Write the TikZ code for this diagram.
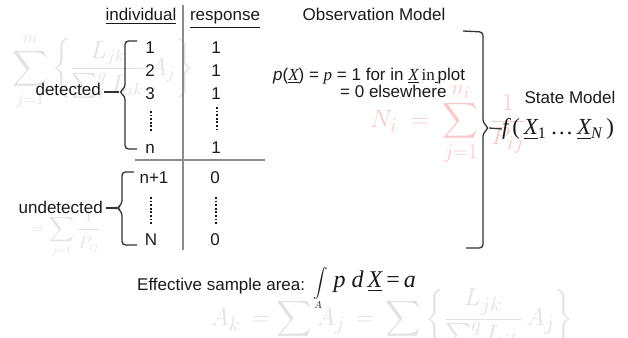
\documentclass[tikz,border=0pt]{standalone}
\usepackage{fontspec}
\setmainfont{Liberation Sans}
\newfontfamily\tms{Liberation Serif}
\usepackage{amsmath}
\definecolor{txt}{HTML}{1A1A1A}
\definecolor{brc}{HTML}{333333}
\definecolor{rulec}{HTML}{8C8C8C}
\definecolor{wmgray}{HTML}{E2E2E2}
\definecolor{wmpink}{HTML}{F8CACA}
\tikzset{
  lbl/.style={font=\fontsize{17}{20}\selectfont, text=txt, inner sep=0pt},
  brk/.style={draw=brc, line width=1.3pt, rounded corners=3.5pt},
  colrule/.style={draw=rulec, line width=1.2pt},
  dotcol/.style={draw=txt, line width=2pt, dash pattern=on 1.8pt off 1.8pt},
  wm/.style={text=wmgray, inner sep=0pt},
  wmr/.style={text=wmpink, inner sep=0pt},
  mth/.style={text=txt, inner sep=0pt, font=\tms\fontsize{23}{26}\selectfont}
}
\begin{document}
\begin{tikzpicture}[x=1pt,y=-1pt]
\path[use as bounding box, fill=white] (0,0) rectangle (628,337);
% faint background formulas
\node[wm, font=\fontsize{25}{28}\selectfont] (wmA) at (103,72) {$\displaystyle\sum_{j=1}^{m}\left\{\frac{L_{jk}}{\sum_{i}^{q}L_{ik}}\,A_j\right\}$};
\node[wm, font=\fontsize{16}{20}\selectfont] (wmB) at (66,234) {$\displaystyle =\sum_{j=1}\frac{1}{\hat{P}_{ij}}$};
\node[wmr, font=\fontsize{32}{36}\selectfont] (wmC) at (448,124) {$N_i\;=\;\displaystyle\sum_{j=1}^{n_i}\;\frac{\;\,1\;\,}{P_{ij}}$};
\node[wm, font=\fontsize{29}{32}\selectfont] (wmD) at (392,326) {$A_k\,=\displaystyle\sum_{j=1}A_j\,=\,\sum_{j=1}\left\{\frac{L_{jk}}{\sum^{q}L_{ik}}\,A_j\right\}$};
% table rules
\coordinate (vt) at (183,5);
\coordinate (vb) at (183,250);
\coordinate (hl) at (135,160);
\coordinate (hr) at (265,160);
\draw[colrule] (vt) -- (vb);
\draw[colrule] (hl) -- (hr);
% headers
\node[lbl, anchor=base] (ind) at (141,21) {\underline{individual}};
\node[lbl, anchor=base] (resp) at (225,21) {\underline{response}};
\node[lbl, anchor=base] (obs) at (374,21) {Observation Model};
% individual column
\node[lbl, anchor=base] (i1) at (150,53) {1};
\node[lbl, anchor=base] (i2) at (150,76) {2};
\node[lbl, anchor=base] (i3) at (150,99) {3};
\node[lbl, anchor=base] (in) at (150,153) {n};
\node[lbl, anchor=base] (inp) at (154,183) {n+1};
\node[lbl, anchor=base] (iN) at (151,245) {N};
% response column
\node[lbl, anchor=base] (r1) at (216,53) {1};
\node[lbl, anchor=base] (r2) at (216,76) {1};
\node[lbl, anchor=base] (r3) at (216,99) {1};
\node[lbl, anchor=base] (rn) at (216,153) {1};
\node[lbl, anchor=base] (rnp) at (215,183) {0};
\node[lbl, anchor=base] (rN) at (215,245) {0};
% vertical dots
\draw[dotcol] (150.5,111) -- (150.5,131);
\draw[dotcol] (216.5,107) -- (216.5,131);
\draw[dotcol] (150.5,197) -- (150.5,224);
\draw[dotcol] (215.5,197) -- (215.5,224);
% detected brace
\node[lbl, anchor=base east] (det) at (101,95) {detected};
\coordinate (dtip) at (119,92);
\draw[brk] (137,41) -- (125,41) -- (125,88) -- (dtip) -- (125,96) -- (125,149) -- (137,149);
\draw[brk] ([xshift=3pt,yshift=3pt]det.base east) -- (dtip);
% undetected brace
\node[lbl, anchor=base east] (undet) at (103,213) {undetected};
\coordinate (utip) at (117,208);
\draw[brk] (134,172) -- (122,172) -- (122,204) -- (utip) -- (122,212) -- (122,245) -- (137,245);
\draw[brk] ([xshift=3pt,yshift=5pt]undet.base east) -- (utip);
% observation model formula
\node[lbl, anchor=base west] (pf1) at (273,80) {{\itshape p}({\tms\itshape\underline{X}}) = {\tms\itshape p} = 1 for in {\tms\itshape\underline{X}}\,{\tms in\underline{\,}}plot};
\node[lbl, anchor=base west] (pf2) at (340,97) {= 0 elsewhere};
% big bracket
\coordinate (btip) at (489,128);
\draw[brk] (463,31) -- (483,32) -- (483,123) -- (btip) -- (483,133) -- (483,248) -- (466,248);
% state model
\node[lbl, anchor=base] (state) at (570,103) {State Model};
\node[mth, anchor=west] (fx) at (502,129) {\itshape f\,\upshape(\,\underline{\itshape X}\textsubscript{1}\,\dots\,\underline{\itshape X}\textsubscript{\itshape N}\,\upshape)};
\draw[brk] (btip) -- (fx.west);
% effective sample area
\node[lbl, anchor=base west] (esa) at (137,290) {Effective sample area:};
\node[mth, anchor=base west] (integ) at (313,287) {\fontsize{14}{16}\selectfont$\displaystyle\int\limits_{\,A}$\fontsize{24}{26}\selectfont\itshape\ p\ d\,\underline{X}\,\upshape=\,\itshape a};
\end{tikzpicture}
\end{document}
